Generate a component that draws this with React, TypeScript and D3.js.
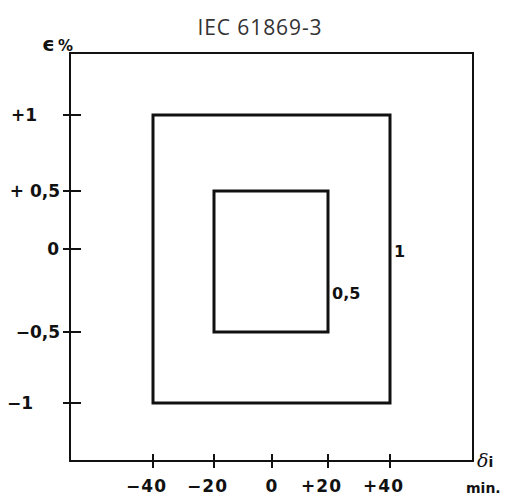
import React from "react";
import * as d3 from "d3";

// ---- data ----
const xTicks = [-40, -20, 0, 20, 40];
const xTickLabels = ["\u221240", "\u221220", "0", "+20", "+40"];
const yTicks = [1, 0.5, 0, -0.5, -1];
const yTickLabels = ["+1", "+ 0,5", "0", "\u22120,5", "\u22121"];
const classNames = ["1", "0,5"];
const classPhaseLimits = [40, 20]; // minutes (±)
const classRatioLimits = [1, 0.5]; // percent (±)
const frameX = [-68, 68];
const frameY = [-1.42, 1.43];

// ---- layout ----
const W = 508;
const H = 495;
// hand-drawn figure: piecewise-linear scales matched to tick positions
const x = d3
  .scaleLinear()
  .domain([frameX[0], -40, -20, 0, 20, 40, frameX[1]])
  .range([70, 153, 214, 272, 328, 390, 473]);
const y = d3
  .scaleLinear()
  .domain([frameY[0], -1, -0.5, 0, 0.5, 1, frameY[1]])
  .range([461, 403, 332, 249, 191, 115, 53]);

const yLabelEnd = [37, 60, 59, 60, 33];
const labelFont = "'DejaVu Sans', sans-serif";

export default function App() {
  const x0 = x(frameX[0]);
  const x1 = x(frameX[1]);
  const y0 = y(frameY[0]);
  const y1 = y(frameY[1]);
  return (
    <svg
      width={W}
      height={H}
      style={{ position: "absolute", left: 0, top: 0, background: "#fff" }}
    >
      <text
        x={260}
        y={35}
        textAnchor="middle"
        fontFamily="'Open Sans', sans-serif"
        fontSize={21}
        letterSpacing={0.9}
        fill="#333"
      >
        IEC 61869-3
      </text>

      {/* frame: axes + outer boundary */}
      <path
        d={`M${x0},${y1} L${x0},${y0} L${x1},${y0} L${x1},${y1} Z`}
        fill="none"
        stroke="#111"
        strokeWidth={2}
      />

      {/* y ticks */}
      {yTicks.map((t, i) => (
        <g key={"y" + i}>
          <line x1={x0 - 7} x2={x0 + 11} y1={y(t)} y2={y(t)} stroke="#111" strokeWidth={2} />
          <text
            x={yLabelEnd[i]}
            y={y(t) + 6}
            textAnchor="end"
            fontFamily={labelFont}
            fontWeight="bold"
            fontSize={17}
            fill="#111"
          >
            {yTickLabels[i]}
          </text>
        </g>
      ))}

      {/* x ticks */}
      {xTicks.map((t, i) => (
        <g key={"x" + i}>
          <line x1={x(t)} x2={x(t)} y1={y0 - 7} y2={y0 + 7} stroke="#111" strokeWidth={2} />
          <text
            x={t === 0 ? x(t) : x(t) + 14}
            y={492}
            textAnchor={t === 0 ? "middle" : "end"}
            fontFamily={labelFont}
            fontWeight="bold"
            fontSize={17}
            letterSpacing={1}
            fill="#111"
          >
            {xTickLabels[i]}
          </text>
        </g>
      ))}

      {/* accuracy class rectangles */}
      {classNames.map((c, i) => {
        const l = x(-classPhaseLimits[i]);
        const r = x(classPhaseLimits[i]);
        const tp = y(classRatioLimits[i]);
        const bt = y(-classRatioLimits[i]);
        return (
          <g key={"c" + i}>
            <rect
              x={l}
              y={tp}
              width={r - l}
              height={bt - tp}
              fill="none"
              stroke="#111"
              strokeWidth={3}
            />
            <text
              x={r + 4}
              y={i === 0 ? y(0) + 8 : y(-0.25) + 8}
              fontFamily={labelFont}
              fontWeight="bold"
              fontSize={16}
              fill="#111"
            >
              {c}
            </text>
          </g>
        );
      })}

      {/* axis titles */}
      <text x={42} y={51} fontFamily={labelFont} fontWeight="bold" fill="#111">
        <tspan fontSize={20}>{"\u03F5"}</tspan>
        <tspan fontSize={15} dx={3}>%</tspan>
      </text>
      <text x={477} y={467} fill="#111">
        <tspan fontFamily="'DejaVu Serif', serif" fontStyle="italic" fontSize={19}>
          {"\u03B4"}
        </tspan>
        <tspan fontFamily={labelFont} fontWeight="bold" fontSize={14}>i</tspan>
      </text>
      <text
        x={466}
        y={493}
        fontFamily={labelFont}
        fontWeight="bold"
        fontSize={14}
        fill="#111"
      >
        min.
      </text>
    </svg>
  );
}
